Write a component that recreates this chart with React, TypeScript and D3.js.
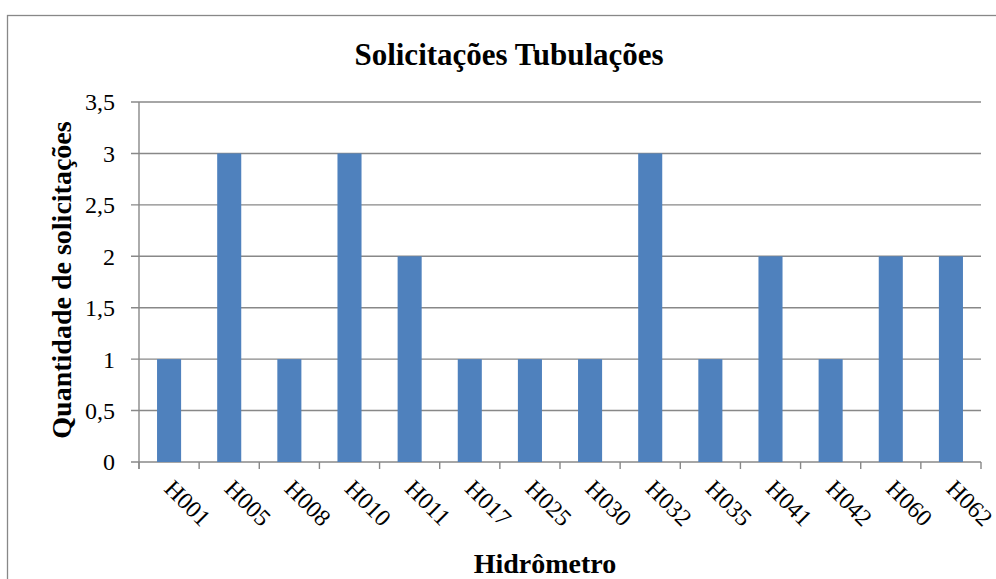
import React, { useEffect, useRef } from 'react';
import * as d3 from 'd3';

const categories = ['H001', 'H005', 'H008', 'H010', 'H011', 'H017', 'H025', 'H030', 'H032', 'H035', 'H041', 'H042', 'H060', 'H062'];
const values = [1, 3, 1, 3, 2, 1, 1, 1, 3, 1, 2, 1, 2, 2];
const yTicks = [0, 0.5, 1, 1.5, 2, 2.5, 3, 3.5];

const FONT = '"Liberation Serif", "Times New Roman", serif';
const GRID = '#888888';
const BAR = '#4F81BD';

export default function App() {
  const ref = useRef<SVGSVGElement>(null);

  useEffect(() => {
    const svg = d3.select(ref.current);
    svg.selectAll('*').remove();

    const left = 139;
    const right = 981;
    const top = 102;
    const bottom = 462;

    // chart frame (runs off the page on the right and bottom)
    svg
      .append('rect')
      .attr('x', 7.5)
      .attr('y', 15.5)
      .attr('width', 1100)
      .attr('height', 700)
      .attr('fill', 'white')
      .attr('stroke', GRID)
      .attr('stroke-width', 1.3);

    const x = d3.scaleBand<string>().domain(categories).range([left, right]).paddingInner(0.6).paddingOuter(0.3);
    const y = d3.scaleLinear().domain([0, 3.5]).range([bottom, top]);

    // gridlines with left ticks
    svg
      .append('g')
      .selectAll('line')
      .data(yTicks)
      .enter()
      .append('line')
      .attr('x1', left - 8)
      .attr('x2', right)
      .attr('y1', (d) => y(d))
      .attr('y2', (d) => y(d))
      .attr('stroke', GRID)
      .attr('stroke-width', 1.4);

    svg
      .append('g')
      .selectAll('text')
      .data(yTicks)
      .enter()
      .append('text')
      .attr('x', left - 24)
      .attr('y', (d) => y(d))
      .attr('dy', '0.35em')
      .attr('text-anchor', 'end')
      .attr('font-family', FONT)
      .attr('font-size', 24)
      .text((d) => String(d).replace('.', ','));

    // bars
    svg
      .append('g')
      .selectAll('rect')
      .data(categories)
      .enter()
      .append('rect')
      .attr('x', (d) => x(d)!)
      .attr('y', (d, i) => y(values[i]))
      .attr('width', x.bandwidth())
      .attr('height', (d, i) => y(0) - y(values[i]))
      .attr('fill', BAR);

    // axes lines
    svg
      .append('line')
      .attr('x1', left)
      .attr('x2', left)
      .attr('y1', top)
      .attr('y2', bottom + 7)
      .attr('stroke', GRID)
      .attr('stroke-width', 1.4);

    const step = x.step();
    const bounds = categories.map((c) => x(c)! - step * 0.3).concat([right]);
    svg
      .append('g')
      .selectAll('line')
      .data(bounds)
      .enter()
      .append('line')
      .attr('x1', (d) => d)
      .attr('x2', (d) => d)
      .attr('y1', bottom)
      .attr('y2', bottom + 7)
      .attr('stroke', GRID)
      .attr('stroke-width', 1.4);

    // category labels, rotated
    svg
      .append('g')
      .selectAll('text')
      .data(categories)
      .enter()
      .append('text')
      .attr('transform', (d) => `translate(${x(d)! + x.bandwidth() / 2 - 6},490) rotate(45)`)
      .attr('font-family', FONT)
      .attr('font-size', 24)
      .text((d) => d);

    // titles
    svg
      .append('text')
      .attr('x', 509)
      .attr('y', 65)
      .attr('text-anchor', 'middle')
      .attr('font-family', FONT)
      .attr('font-weight', 'bold')
      .attr('font-size', 31)
      .text('Solicitações Tubulações');

    svg
      .append('text')
      .attr('x', 545)
      .attr('y', 573)
      .attr('text-anchor', 'middle')
      .attr('font-family', FONT)
      .attr('font-weight', 'bold')
      .attr('font-size', 28)
      .text('Hidrômetro');

    svg
      .append('text')
      .attr('transform', 'translate(71,280) rotate(-90)')
      .attr('text-anchor', 'middle')
      .attr('font-family', FONT)
      .attr('font-weight', 'bold')
      .attr('font-size', 28)
      .text('Quantidade de solicitações');
  }, []);

  return (
    <svg
      ref={ref}
      width={996}
      height={579}
      style={{ position: 'absolute', left: 0, top: 0, background: 'white' }}
    />
  );
}
